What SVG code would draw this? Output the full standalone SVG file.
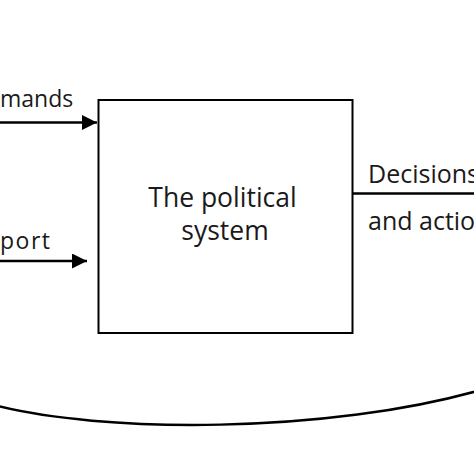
<svg xmlns="http://www.w3.org/2000/svg" width="474" height="474" viewBox="0 0 474 474">
<defs>
<style>
text{font-family:"Open Sans","Noto Sans",sans-serif;fill:#1a1a1a}
.big{font-size:26.5px}
.lbl{font-size:25px}
.sm{font-size:23px}
.ln{stroke:#000;stroke-width:2.5;fill:none}
</style>
<marker id="ah" viewBox="0 0 10 10" refX="10" refY="5" markerWidth="6.5" markerHeight="6" markerUnits="strokeWidth" orient="auto">
<path d="M0,0 L10,5 L0,10 Z" fill="#000"/>
</marker>
</defs>
<rect width="474" height="474" fill="#fff"/>
<g id="system">
<rect x="98.5" y="100" width="254" height="233" fill="#fff" stroke="#000" stroke-width="2"/>
<text class="big" x="222.5" y="207" text-anchor="middle">The political</text>
<text class="big" x="225" y="240" text-anchor="middle">system</text>
</g>
<g id="demands"><text class="sm" x="0" y="107">mands</text></g>
<g id="support"><text class="sm" x="0" y="249" letter-spacing="1.5">port</text></g>
<g id="decisions"><text class="lbl" x="368" y="183">Decisions</text><text class="lbl" x="368" y="230">and actions</text></g>
<g id="connectors">
<path class="ln" d="M0,122.5 H97" marker-end="url(#ah)"/>
<path class="ln" d="M0,261 H87" marker-end="url(#ah)"/>
<path class="ln" d="M352,193.5 H474"/>
<path class="ln" d="M-10,404 C100,434 330,434 484,389"/>
</g>
</svg>
